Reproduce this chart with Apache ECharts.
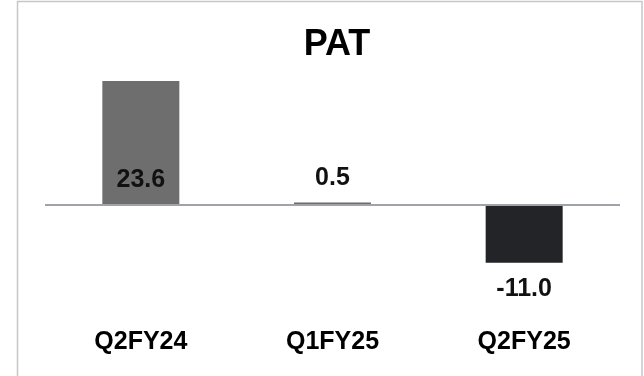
<!DOCTYPE html>
<html>
<head>
<meta charset="utf-8">
<title>PAT</title>
<script src="https://cdn.jsdelivr.net/npm/echarts@6/dist/echarts.min.js"></script>
<style>
  html, body { margin: 0; padding: 0; background: #ffffff; }
  #chart { width: 644px; height: 376px; }
</style>
</head>
<body>
<div id="chart"></div>
<script>
// PAT by quarter
const categories = ['Q2FY24', 'Q1FY25', 'Q2FY25'];
const patValues = [23.6, 0.5, -11.0];
const barColors = ['#6e6e6e', '#6c6c6c', '#232428'];
const labelPositions = ['insideBottom', 'top', 'bottom'];
const labelDistances = [12, 12, 14];

const FONT = '"Liberation Sans", Arial, Helvetica, sans-serif';

const chart = echarts.init(document.getElementById('chart'), null, { renderer: 'canvas' });

const seriesData = patValues.map((v, i) => ({
  value: v,
  itemStyle: { color: barColors[i] },
  label: { position: labelPositions[i], distance: labelDistances[i] }
}));

chart.setOption({
  animation: false,
  backgroundColor: '#ffffff',
  title: {
    text: 'PAT',
    left: 332,
    textAlign: 'center',
    top: 22,
    textStyle: { fontFamily: FONT, fontWeight: 'bold', fontSize: 36, color: '#000000' }
  },
  graphic: [{
    type: 'rect',
    silent: true,
    shape: { x: 17.5, y: 1.5, width: 624.5, height: 390 },
    style: { fill: 'none', stroke: '#c6c6cc', lineWidth: 1.5 }
  }],
  grid: { left: 45, right: 24, top: 47.5, height: 262.5 },
  xAxis: {
    type: 'category',
    data: categories,
    axisLine: { show: false, onZero: false },
    axisTick: { show: false },
    axisLabel: {
      margin: 20,
      fontFamily: FONT,
      fontWeight: 'bold',
      fontSize: 25,
      color: '#000000'
    }
  },
  yAxis: {
    type: 'value',
    min: -20,
    max: 30,
    show: false,
    splitLine: { show: false }
  },
  series: [{
    type: 'bar',
    data: seriesData,
    barWidth: 77,
    label: {
      show: true,
      fontFamily: FONT,
      fontWeight: 'bold',
      fontSize: 25,
      color: '#111111',
      formatter: p => p.value.toFixed(1)
    },
    markLine: {
      silent: true,
      symbol: 'none',
      label: { show: false },
      lineStyle: { color: '#a0a4a8', width: 2, type: 'solid' },
      data: [{ yAxis: 0 }]
    }
  }]
});
</script>
</body>
</html>
